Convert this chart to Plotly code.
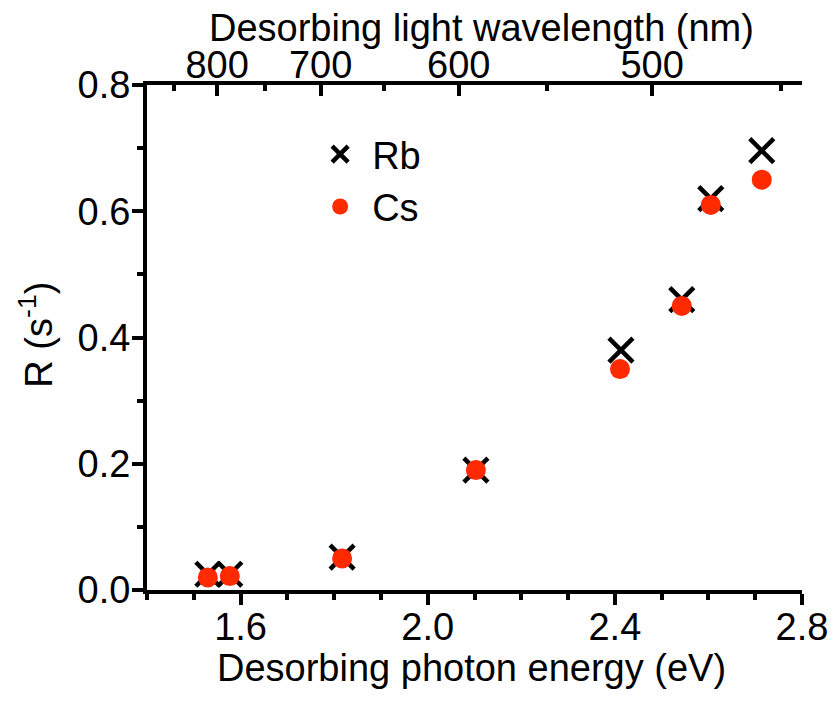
import plotly.graph_objects as go

# Data
energy_rb = [1.530, 1.577, 1.817, 2.103, 2.413, 2.543, 2.605, 2.714]
r_rb = [0.025, 0.025, 0.052, 0.190, 0.380, 0.460, 0.620, 0.696]
energy_cs = [1.530, 1.577, 1.817, 2.103, 2.411, 2.543, 2.605, 2.714]
r_cs = [0.020, 0.022, 0.050, 0.190, 0.350, 0.450, 0.610, 0.650]

energy_ticks = [1.6, 2.0, 2.4, 2.8]
r_ticks = [0.0, 0.2, 0.4, 0.6, 0.8]
wl_major = [800, 700, 600, 500]
wl_minor = [850, 750, 650, 550, 450]
HC = 1239.84  # eV*nm

FONT = "Liberation Sans, Arial, sans-serif"
FS = 38

fig = go.Figure()
fig.add_trace(go.Scatter(
    x=energy_rb, y=r_rb, mode="markers", name="Rb",
    marker=dict(symbol="x-thin", size=24, color="black",
                line=dict(width=4.5, color="black")),
))
fig.add_trace(go.Scatter(
    x=energy_cs, y=r_cs, mode="markers", name="Cs",
    marker=dict(symbol="circle", size=20, color="#ff2a00",
                line=dict(width=0)),
))
# invisible traces to activate the top (wavelength) axes
for ax in ["x2", "x3"]:
    fig.add_trace(go.Scatter(x=energy_cs, y=r_cs, xaxis=ax, mode="markers",
                             marker=dict(opacity=0), showlegend=False,
                             hoverinfo="skip"))

axis_common = dict(linewidth=4, linecolor="black", automargin=False,
                   tickwidth=3.5, tickcolor="black",
                   showgrid=False, zeroline=False,
                   tickfont=dict(family=FONT, size=FS, color="black"))

fig.update_layout(
    width=828, height=696,
    margin=dict(l=139, r=34, t=77, b=114, autoexpand=False),
    paper_bgcolor="white", plot_bgcolor="white",
    font=dict(family=FONT, size=FS, color="black"),
    showlegend=True,
    legend=dict(x=0.246, y=0.925, xanchor="left", yanchor="top",
                bgcolor="rgba(0,0,0,0)", font=dict(size=FS, family=FONT),
                itemsizing="trace", itemwidth=54, tracegroupgap=0),
    xaxis=dict(range=[1.4, 2.8], tickmode="array", showline=True,
               ticks="outside", ticklen=11, ticklabelstandoff=-11,
               tickvals=energy_ticks, ticktext=[f"{v:.1f}" for v in energy_ticks],
               minor=dict(dtick=0.1, tick0=1.4, ticks="outside", ticklen=6,
                          tickwidth=3.5, tickcolor="black"),
               **axis_common),
    xaxis2=dict(range=[1.4, 2.8], overlaying="x", side="top", anchor="y",
                tickmode="array", showline=True, ticks="inside", ticklen=11,
                ticklabelstandoff=-12,
                tickvals=[HC / w for w in wl_major],
                ticktext=[str(w) for w in wl_major],
                **axis_common),
    xaxis3=dict(range=[1.4, 2.8], overlaying="x", side="top", anchor="y",
                tickmode="array", showline=False, ticks="inside", ticklen=6,
                tickvals=[HC / w for w in wl_minor], showticklabels=False,
                **axis_common),
    yaxis=dict(range=[0, 0.8], tickmode="array", showline=True,
               ticks="outside", ticklen=11, ticklabelstandoff=-6,
               tickvals=r_ticks, ticktext=[f"{v:.1f}" for v in r_ticks],
               minor=dict(dtick=0.1, tick0=0, ticks="outside", ticklen=6,
                          tickwidth=3.5, tickcolor="black"),
               **axis_common),
    annotations=[
        dict(text="Desorbing photon energy (eV)", xref="paper", yref="paper",
             x=0.496, y=-0.154, xanchor="center", yanchor="middle",
             showarrow=False, font=dict(family=FONT, size=FS)),
        dict(text="Desorbing light wavelength (nm)", xref="paper", yref="paper",
             x=0.51, y=1.113, xanchor="center", yanchor="middle",
             showarrow=False, font=dict(family=FONT, size=FS)),
        dict(text="R (s<sup>-1</sup>)", xref="paper", yref="paper",
             x=-0.17, y=0.505, xanchor="center", yanchor="middle", textangle=-90,
             showarrow=False, font=dict(family=FONT, size=FS)),
    ],
)

fig.write_html("out.html")
